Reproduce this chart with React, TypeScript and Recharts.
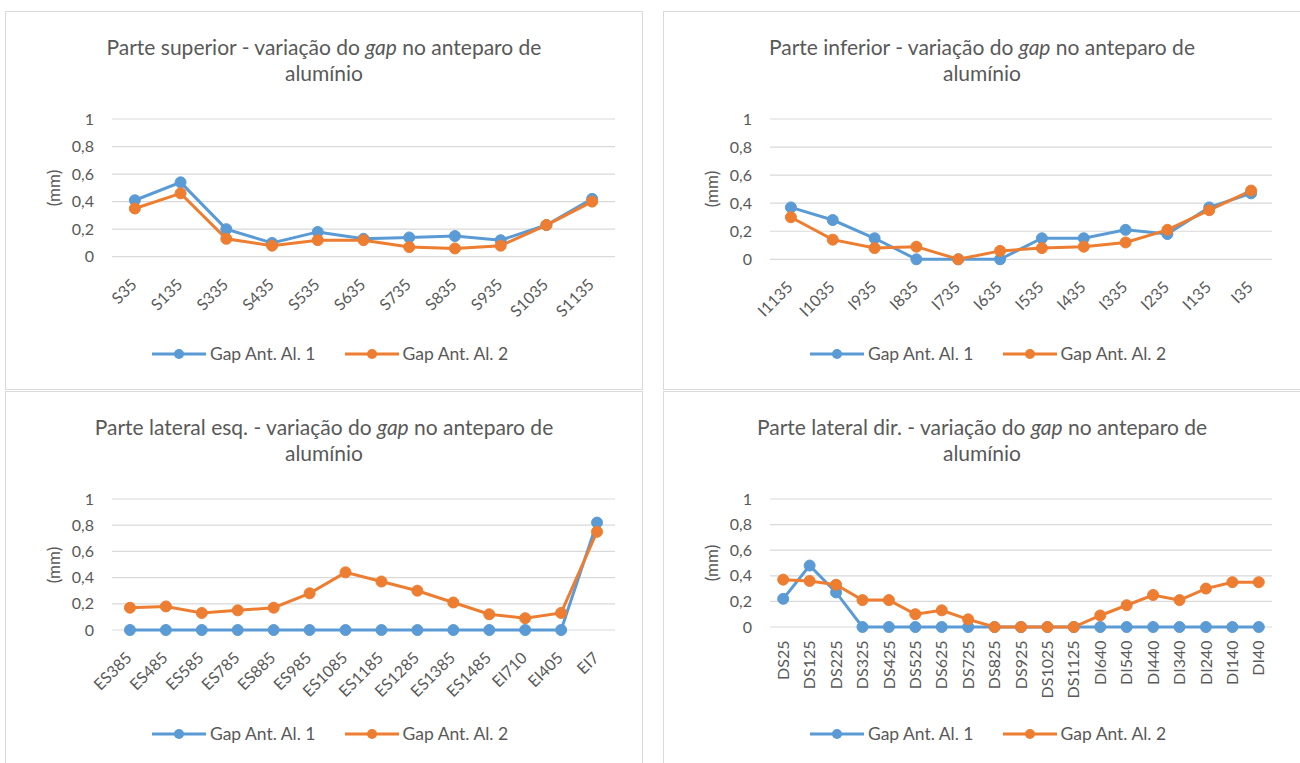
import React from 'react';
import { LineChart, Line, XAxis, YAxis, CartesianGrid } from 'recharts';

const FONT = 'Lato, "Open Sans", sans-serif';
const BLUE = '#5B9BD5';
const ORANGE = '#ED7D31';
const TEXT = '#595959';
const GRID = '#D9D9D9';

const yTicks = [0, 0.2, 0.4, 0.6, 0.8, 1];
const seriesNames = ['Gap Ant. Al. 1', 'Gap Ant. Al. 2'];

const supCategories = ['S35', 'S135', 'S335', 'S435', 'S535', 'S635', 'S735', 'S835', 'S935', 'S1035', 'S1135'];
const supGap1 = [0.41, 0.54, 0.2, 0.1, 0.18, 0.13, 0.14, 0.15, 0.12, 0.23, 0.42];
const supGap2 = [0.35, 0.46, 0.13, 0.08, 0.12, 0.12, 0.07, 0.06, 0.08, 0.23, 0.4];

const infCategories = ['I1135', 'I1035', 'I935', 'I835', 'I735', 'I635', 'I535', 'I435', 'I335', 'I235', 'I135', 'I35'];
const infGap1 = [0.37, 0.28, 0.15, 0, 0, 0, 0.15, 0.15, 0.21, 0.18, 0.37, 0.47];
const infGap2 = [0.3, 0.14, 0.08, 0.09, 0, 0.06, 0.08, 0.09, 0.12, 0.21, 0.35, 0.49];

const esqCategories = ['ES385', 'ES485', 'ES585', 'ES785', 'ES885', 'ES985', 'ES1085', 'ES1185', 'ES1285', 'ES1385', 'ES1485', 'EI710', 'EI405', 'EI7'];
const esqGap1 = [0, 0, 0, 0, 0, 0, 0, 0, 0, 0, 0, 0, 0, 0.82];
const esqGap2 = [0.17, 0.18, 0.13, 0.15, 0.17, 0.28, 0.44, 0.37, 0.3, 0.21, 0.12, 0.09, 0.13, 0.75];

const dirCategories = ['DS25', 'DS125', 'DS225', 'DS325', 'DS425', 'DS525', 'DS625', 'DS725', 'DS825', 'DS925', 'DS1025', 'DS1125', 'DI640', 'DI540', 'DI440', 'DI340', 'DI240', 'DI140', 'DI40'];
const dirGap1 = [0.22, 0.48, 0.27, 0, 0, 0, 0, 0, 0, 0, 0, 0, 0, 0, 0, 0, 0, 0, 0];
const dirGap2 = [0.37, 0.36, 0.33, 0.21, 0.21, 0.1, 0.13, 0.06, 0, 0, 0, 0, 0.09, 0.17, 0.25, 0.21, 0.3, 0.35, 0.35];

type Plot = { x1: number; x2: number; y1: number; y2: number };

const YW = 60;
const XH = 90;

const fmt = (v: number) => String(v).replace('.', ',');

const makeTick = (vertical: boolean) => (props: any) => {
  const { x, y, payload } = props;
  if (vertical) {
    return (
      <g transform={`translate(${x},${y + 13.5})`}>
        <text transform="rotate(-90)" textAnchor="end" dy="0.35em" fontSize={16} fill={TEXT} fontFamily={FONT}>
          {payload.value}
        </text>
      </g>
    );
  }
  return (
    <g transform={`translate(${x - 1},${y + 25})`}>
      <text transform="rotate(-45)" textAnchor="end" dy="0.35em" fontSize={16} fill={TEXT} fontFamily={FONT}>
        {payload.value}
      </text>
    </g>
  );
};

const LegendItem = ({ color, label }: { color: string; label: string }) => (
  <div style={{ display: 'flex', alignItems: 'center' }}>
    <svg width={54} height={12} style={{ display: 'block' }}>
      <line x1={0} y1={6} x2={54} y2={6} stroke={color} strokeWidth={3} />
      <circle cx={27} cy={6} r={5} fill={color} />
    </svg>
    <span style={{ marginLeft: 4, fontSize: 17.5, color: TEXT, fontFamily: FONT, lineHeight: '16px' }}>{label}</span>
  </div>
);

type PanelProps = {
  left: number;
  top: number;
  width: number;
  height: number;
  titleStart: string;
  categories: string[];
  gap1: number[];
  gap2: number[];
  plot: Plot;
  vertical: boolean;
};

const Panel = ({ left, top, width, height, titleStart, categories, gap1, gap2, plot, vertical }: PanelProps) => {
  const innerLeft = left + 1;
  const innerTop = top + 1;
  const innerW = width - 2;
  const innerH = height - 2;
  const data = categories.map((c, i) => ({ cat: c, g1: gap1[i], g2: gap2[i] }));
  const margin = {
    left: plot.x1 - innerLeft - YW,
    right: innerLeft + innerW - plot.x2,
    top: plot.y1 - innerTop,
    bottom: innerTop + innerH - plot.y2 - XH,
  };
  const mmX = plot.x1 - YW - innerLeft + 1;
  const mmY = (plot.y1 + plot.y2) / 2 - innerTop;
  return (
    <div
      style={{
        position: 'absolute',
        left,
        top,
        width: width - 2,
        height: height - 2,
        border: `1px solid ${GRID}`,
        background: '#fff',
      }}
    >
      <div
        style={{
          position: 'absolute',
          left: 0,
          width: innerW,
          top: 22,
          textAlign: 'center',
          fontFamily: FONT,
          fontSize: 21,
          lineHeight: '26px',
          color: TEXT,
        }}
      >
        <div>
          {titleStart} - variação do <i>gap</i> no anteparo de
        </div>
        <div>alumínio</div>
      </div>
      <div style={{ position: 'absolute', left: 0, top: 0 }}>
        <LineChart width={innerW} height={innerH} data={data} margin={margin}>
          <CartesianGrid vertical={false} stroke={GRID} strokeWidth={1.2} />
          <XAxis
            dataKey="cat"
            scale="band"
            interval={0}
            height={XH}
            tickLine={false}
            axisLine={false}
            tickSize={0}
            tickMargin={0}
            tick={makeTick(vertical)}
          />
          <YAxis
            width={YW}
            domain={[0, 1]}
            ticks={yTicks}
            tickFormatter={fmt}
            tickLine={false}
            axisLine={false}
            tickSize={6}
            tickMargin={12}
            tick={{ fontSize: 16, fill: TEXT, fontFamily: FONT }}
          />
          <Line
            dataKey="g1"
            name={seriesNames[0]}
            stroke={BLUE}
            strokeWidth={3}
            dot={{ r: 5.5, fill: BLUE, stroke: BLUE, strokeWidth: 1 }}
            activeDot={false}
            isAnimationActive={false}
          />
          <Line
            dataKey="g2"
            name={seriesNames[1]}
            stroke={ORANGE}
            strokeWidth={3}
            dot={{ r: 5.5, fill: ORANGE, stroke: ORANGE, strokeWidth: 1 }}
            activeDot={false}
            isAnimationActive={false}
          />
        </LineChart>
      </div>
      <div
        style={{
          position: 'absolute',
          left: mmX,
          top: mmY,
          transform: 'translate(-50%, -50%) rotate(-90deg)',
          fontFamily: FONT,
          fontSize: 17,
          color: TEXT,
          whiteSpace: 'nowrap',
        }}
      >
        (mm)
      </div>
      <div
        style={{
          position: 'absolute',
          left: 6,
          width: innerW,
          top: 342 - 8,
          height: 16,
          display: 'flex',
          justifyContent: 'center',
          gap: 29,
        }}
      >
        <LegendItem color={BLUE} label={seriesNames[0]} />
        <LegendItem color={ORANGE} label={seriesNames[1]} />
      </div>
    </div>
  );
};

export default function App() {
  return (
    <div
      style={{
        position: 'fixed',
        left: 0,
        top: 0,
        width: 1300,
        height: 763,
        overflow: 'hidden',
        background: '#fff',
      }}
    >
      <Panel
        left={5}
        top={11}
        width={638}
        height={379}
        titleStart="Parte superior"
        categories={supCategories}
        gap1={supGap1}
        gap2={supGap2}
        plot={{ x1: 112, x2: 615, y1: 119, y2: 256.7 }}
        vertical={false}
      />
      <Panel
        left={663}
        top={11}
        width={638}
        height={379}
        titleStart="Parte inferior"
        categories={infCategories}
        gap1={infGap1}
        gap2={infGap2}
        plot={{ x1: 770, x2: 1272, y1: 119, y2: 259.3 }}
        vertical={false}
      />
      <Panel
        left={5}
        top={391}
        width={638}
        height={379}
        titleStart="Parte lateral esq."
        categories={esqCategories}
        gap1={esqGap1}
        gap2={esqGap2}
        plot={{ x1: 112, x2: 615, y1: 499, y2: 630 }}
        vertical={false}
      />
      <Panel
        left={663}
        top={391}
        width={638}
        height={379}
        titleStart="Parte lateral dir."
        categories={dirCategories}
        gap1={dirGap1}
        gap2={dirGap2}
        plot={{ x1: 770, x2: 1272, y1: 499, y2: 627 }}
        vertical={true}
      />
    </div>
  );
}
